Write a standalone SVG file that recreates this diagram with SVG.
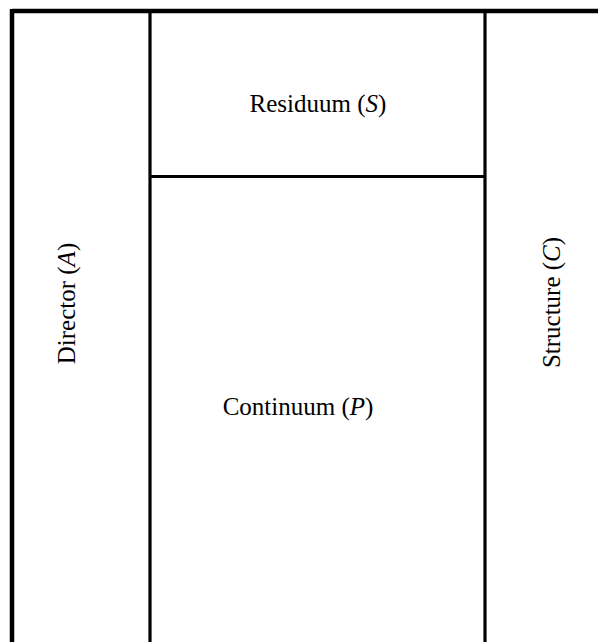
<svg xmlns="http://www.w3.org/2000/svg" width="598" height="642" viewBox="0 0 598 642">
<style>
.t{font-family:"Liberation Serif","Times New Roman",serif;font-size:25px;fill:#000;text-anchor:middle}
.b{stroke:#000;fill:none}
</style>
<rect width="598" height="642" fill="#fff"/>
<g id="connectors">
<line class="b" x1="12" y1="11" x2="598" y2="11" stroke-width="4.5"/>
<line class="b" x1="12" y1="9" x2="12" y2="642" stroke-width="4.5"/>
<line class="b" x1="150" y1="11" x2="150" y2="642" stroke-width="3.2"/>
<line class="b" x1="485" y1="11" x2="485" y2="642" stroke-width="3.2"/>
<line class="b" x1="150" y1="176.5" x2="485" y2="176.5" stroke-width="3.2"/>
</g>
<g id="director"><text class="t" transform="translate(75,303.5) rotate(-90)">Director (<tspan font-style="italic">A</tspan>)</text></g>
<g id="residuum"><text class="t" x="318" y="112">Residuum (<tspan font-style="italic">S</tspan>)</text></g>
<g id="continuum"><text class="t" x="298" y="415">Continuum (<tspan font-style="italic">P</tspan>)</text></g>
<g id="structure"><text class="t" transform="translate(560,302.5) rotate(-90)">Structure (<tspan font-style="italic">C</tspan>)</text></g>
</svg>
